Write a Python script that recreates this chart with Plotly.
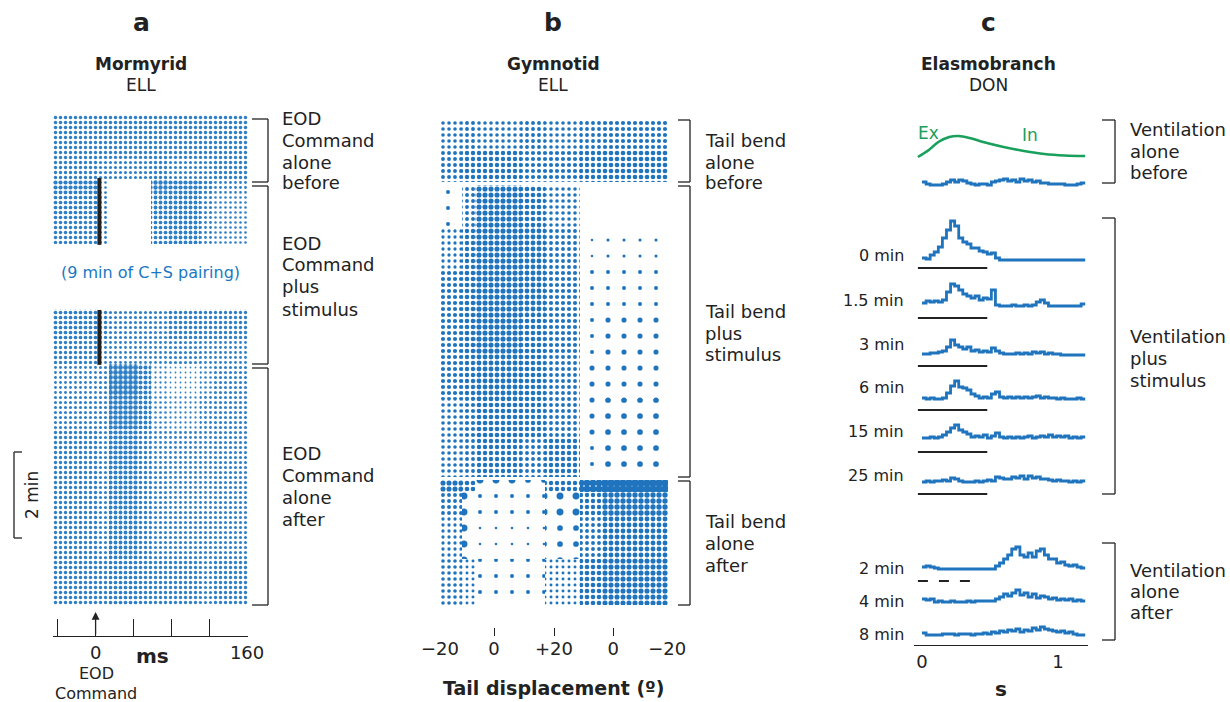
import numpy as np
import plotly.graph_objects as go

W, H = 1230, 702
def px(x): return x / W
def py(y): return 1 - y / H

BLUE = '#1f74bd'
DOT_A = '#2f7fc6'
DOT_B = '#1f74bd'
GREEN = '#19a05c'
FONT = 'DejaVu Sans, Liberation Sans, Arial, sans-serif'
INK = '#222222'

# ---------------- Panel a : Mormyrid ELL raster (spike density) ----------
A_COL_EDGES = [-45, 4, 14, 45, 58, 75, 110, 125, 161]          # ms
A_ROW_START = [0.0, 0.5, 1.0, 1.5, 1.8, 2.4, 4.5, 5.2, 5.8, 6.5, 7.3, 8.2, 9.2, 10.3]  # min
A_ROW_END   = [0.5, 1.0, 1.5, 1.8, 2.4, 3.0, 5.2, 5.8, 6.5, 7.3, 8.2, 9.2, 10.3, 11.4]
A_DENSITY = [
    [0.45, 0.45, 0.45, 0.45, 0.45, 0.45, 0.45, 0.45],
    [0.40, 0.40, 0.40, 0.40, 0.40, 0.40, 0.40, 0.40],
    [0.40, 0.38, 0.35, 0.38, 0.40, 0.35, 0.38, 0.40],
    [0.65, 0.25, 0.00, 0.00, 0.70, 0.65, 0.45, 0.30],
    [0.50, 0.30, 0.00, 0.00, 0.55, 0.55, 0.35, 0.25],
    [0.45, 0.30, 0.00, 0.00, 0.50, 0.55, 0.30, 0.25],
    [0.50, 0.40, 0.35, 0.35, 0.35, 0.45, 0.40, 0.40],
    [0.40, 0.30, 0.30, 0.30, 0.30, 0.35, 0.30, 0.30],
    [0.30, 0.35, 0.85, 0.60, 0.20, 0.12, 0.25, 0.35],
    [0.35, 0.35, 0.75, 0.55, 0.25, 0.20, 0.30, 0.35],
    [0.40, 0.35, 0.65, 0.40, 0.30, 0.30, 0.30, 0.35],
    [0.40, 0.35, 0.60, 0.40, 0.35, 0.30, 0.30, 0.35],
    [0.40, 0.35, 0.55, 0.40, 0.35, 0.35, 0.35, 0.35],
    [0.45, 0.40, 0.50, 0.45, 0.40, 0.40, 0.35, 0.40],
]
A_STIM_X = 4                       # ms, stimulus marker
A_STIM_SEGMENTS = [(1.465, 3.02), (4.535, 5.81)]
A_TICKS = [-40, 0, 40, 80, 120, 160]
A_TICKTEXT = ['', '0', '', '', '', '160']

# ---------------- Panel b : Gymnotid ELL raster ----------------
B_COL_EDGES = [-20, -12, -7, 10, 19, 32, 40, 64.5]
B_ROW_START = [0.0, 0.7, 1.51, 2.5, 3.5, 4.5, 5.5, 6.5, 7.4, 8.37, 8.65, 9.2, 10.2]
B_ROW_END   = [0.7, 1.44, 2.5, 3.5, 4.5, 5.5, 6.5, 7.4, 8.3, 8.65, 9.2, 10.2, 11.28]
B_DENSITY = [
    [0.30, 0.35, 0.30, 0.35, 0.30, 0.35, 0.40],
    [0.35, 0.45, 0.45, 0.40, 0.40, 0.45, 0.50],
    [0.05, 0.35, 0.60, 0.50, 0.30, 0.00, 0.00],
    [0.25, 0.45, 0.60, 0.55, 0.35, 0.02, 0.03],
    [0.40, 0.50, 0.60, 0.55, 0.40, 0.05, 0.05],
    [0.40, 0.50, 0.60, 0.50, 0.40, 0.05, 0.08],
    [0.40, 0.45, 0.55, 0.50, 0.35, 0.08, 0.08],
    [0.30, 0.40, 0.50, 0.45, 0.35, 0.08, 0.10],
    [0.30, 0.35, 0.45, 0.35, 0.45, 0.05, 0.10],
    [0.60, 0.50, 0.15, 0.10, 0.45, 0.90, 0.95],
    [0.35, 0.15, 0.05, 0.05, 0.15, 0.45, 0.65],
    [0.25, 0.15, 0.02, 0.02, 0.10, 0.35, 0.55],
    [0.30, 0.20, 0.05, 0.05, 0.20, 0.50, 0.60],
]
B_TICKS = [-20, 0, 22.2, 44.1, 64.1]
B_TICKTEXT = ['\u221220', '0', '+20', '0', '\u221220']

# ---------------- Panel c : Elasmobranch DON histograms ----------------
C_BIN = 0.03   # s
C_LABELS = ['0 min', '1.5 min', '3 min', '6 min', '15 min', '25 min', '2 min', '4 min', '8 min']
C_HISTS = [
    [1.5, 0.5, 0, 0, 0, 0.5, 1.5, 2.5, 1.5, 2.5, 2, 1, 0.5, 0, 0.5, 0.5, 0, 1.5, 2, 2.5,
     3, 2, 2.5, 1.5, 3, 2, 2.5, 1.5, 2, 1, 1, 0.5, 0.5, 0.5, 0.5, 0, 0, 0, 0.5, 1],
    [1, 0.5, 2.5, 4, 6.5, 11, 15, 19.5, 17, 11, 9, 8, 6, 6, 4.5, 4, 3, 3.5, 1, 0,
     0, 0, 0, 0, 0, 0, 0, 0, 0, 0, 0, 0, 0, 0, 0, 0, 0, 0, 0, 0],
    [1.5, 2.5, 2, 2.5, 2, 3, 7, 11, 10, 8, 6, 5, 4, 5, 3, 4, 3.5, 8, 0.5, 0,
     0, 0, 0.5, 0, 0, 0.5, 0, 0.5, 2, 3, 1.5, 0, 0, 0, 0, 0, 0, 0, 0, 1],
    [0.5, 0.5, 1, 1, 1.5, 2, 4, 7.5, 5, 4, 3, 4, 2, 2.5, 1.5, 2, 1.5, 3.5, 2, 1,
     0.5, 0.5, 0.5, 1, 0.5, 1, 0.5, 1.5, 1, 1.5, 0.5, 1, 0.5, 0.5, 0, 0, 0, 0, 0, 0],
    [1, 0.5, 1, 0.5, 0.5, 1, 3.5, 7, 9.5, 6.5, 6, 5, 3, 2, 1, 1.5, 1, 3, 4, 1.5,
     1, 1.5, 1, 1.5, 1, 1.5, 1, 1.5, 2, 1, 1.5, 1, 1, 0.5, 1, 0.5, 0.5, 0.5, 1, 0.5],
    [1, 1, 1.5, 1, 1.5, 2.5, 4, 6, 7.5, 5, 4, 3, 1.5, 2, 1.5, 2.5, 1, 2, 3.5, 1.5,
     1, 1.5, 1, 1.5, 1, 1.5, 2, 1, 1.5, 2, 1.5, 2.5, 1.5, 2, 1.5, 2, 1, 1.5, 1, 1.5],
    [0.5, 1, 0.5, 1, 1, 1.5, 1, 2.5, 2, 1, 0.5, 0.5, 0.5, 1, 0.5, 1, 1.5, 1, 3, 2.5,
     2, 2, 3, 2.5, 3.5, 2, 3.5, 2.5, 3, 2, 2, 1.5, 1, 1.5, 1, 1, 0.5, 1, 0.5, 1],
    [1, 1.5, 1, 0.5, 0, 0, 0, 0, 0, 0, 0, 0, 0, 0, 0, 0, 0, 0, 1.5, 3,
     5, 7, 10, 11, 7, 6, 8, 6, 9, 10, 7, 5, 5, 3, 3.5, 2, 1.5, 2, 1, 0.5],
    [2, 1.5, 2, 0.5, 1, 0.5, 0.5, 1, 0.5, 0.5, 0.5, 1, 0.5, 1, 1, 1, 1, 1, 2, 3,
     4.5, 3.5, 5, 6.5, 4, 5, 3, 4.5, 2.5, 3.5, 3, 2, 2.5, 1.5, 2, 1.5, 2, 1, 1.5, 1],
    [1.5, 0.5, 0.5, 0.5, 0.5, 1, 1, 1, 0.5, 1, 1, 1, 0.5, 1, 1, 1.5, 1, 2, 1.5, 2.5,
     2, 3, 2.5, 3.5, 2, 3, 2.5, 4, 3, 4.5, 3.5, 3, 2.5, 2, 2.5, 1.5, 2, 1, 0.5, 0.5],
]
C_OFFSETS = [230, 192.5, 169.5, 145, 122.5, 102.5, 81, 38, 21, 4.5]
C_LABEL_Y = [256, 300, 344, 387, 431, 475, 568, 601, 634]
C_STIM = [-0.03, 0.48]          # s
C_STIM_LEVELS = [188.5, 163.5, 139.5, 117.5, 96.5, 75.5]
C_STIM_AFTER = [-0.03, 0.40]
C_STIM_AFTER_LEVEL = 32
VENT_T = [-0.03, 0.05, 0.12, 0.2, 0.27, 0.35, 0.45, 0.6, 0.75, 0.9, 1.05, 1.2]
VENT_V = [0, 3.5, 7.5, 10, 10.5, 9.5, 7.5, 5, 3, 1.5, 0.75, 0.5]
VENT_OFFSET = 244

fig = go.Figure()


def raster(col_edges, rs, re, dens, xa, ya, size, scale, color, dmin=0.0, dmax=1.0):
    ys, xs, bases, widths, sol = [], [], [], [], []
    for r in range(len(rs)):
        for c in range(len(col_edges) - 1):
            d = dens[r][c]
            if d <= 0 or d < dmin or d >= dmax:
                continue
            ys.append((rs[r] + re[r]) / 2)
            widths.append(re[r] - rs[r])
            bases.append(col_edges[c])
            xs.append(col_edges[c + 1] - col_edges[c])
            sol.append(min(0.95, d * scale))
    return go.Bar(orientation='h', y=ys, x=xs, base=bases, width=widths,
                  xaxis=xa, yaxis=ya, showlegend=False, hoverinfo='skip',
                  marker=dict(color='white', line=dict(width=0),
                              pattern=dict(shape='.', fgcolor=color, bgcolor='white',
                                           size=size, solidity=sol, fillmode='replace')))


fig.add_trace(raster(A_COL_EDGES, A_ROW_START, A_ROW_END, A_DENSITY, 'x', 'y', 5, 0.85, DOT_A))
fig.add_trace(raster(B_COL_EDGES, B_ROW_START, B_ROW_END, B_DENSITY, 'x2', 'y2', 6, 0.95, DOT_B, dmin=0.2))
fig.add_trace(raster(B_COL_EDGES, B_ROW_START, B_ROW_END, B_DENSITY, 'x2', 'y2', 16, 1.0, DOT_B, dmax=0.2))

for (s0, s1) in A_STIM_SEGMENTS:
    fig.add_trace(go.Scatter(x=[A_STIM_X, A_STIM_X], y=[s0, s1], mode='lines',
                             line=dict(color=INK, width=4), xaxis='x', yaxis='y',
                             showlegend=False, hoverinfo='skip'))

# panel c histograms
edges = np.round(np.arange(41) * C_BIN, 4)
for vals, off in zip(C_HISTS, C_OFFSETS):
    yy = [off + v for v in vals] + [off + vals[-1]]
    fig.add_trace(go.Scatter(x=edges, y=yy, mode='lines', line=dict(color=BLUE, width=2.8, shape='hv'),
                             xaxis='x3', yaxis='y3', showlegend=False, hoverinfo='skip'))
for lv in C_STIM_LEVELS:
    fig.add_trace(go.Scatter(x=C_STIM, y=[lv, lv], mode='lines', line=dict(color=INK, width=2),
                             xaxis='x3', yaxis='y3', showlegend=False, hoverinfo='skip'))
fig.add_trace(go.Scatter(x=C_STIM_AFTER, y=[C_STIM_AFTER_LEVEL] * 2, mode='lines',
                         line=dict(color=INK, width=2, dash='10px,11px'),
                         xaxis='x3', yaxis='y3', showlegend=False, hoverinfo='skip'))
fig.add_trace(go.Scatter(x=VENT_T, y=[VENT_OFFSET + v for v in VENT_V], mode='lines',
                         line=dict(color=GREEN, width=2.6, shape='spline'),
                         xaxis='x3', yaxis='y3', showlegend=False, hoverinfo='skip'))

tickfont = dict(family=FONT, size=18, color=INK)
layout = dict(
    width=W, height=H, autosize=False,
    margin=dict(l=0, r=0, t=0, b=0, pad=0, autoexpand=False),
    paper_bgcolor='white', plot_bgcolor='white',
    barmode='overlay', bargap=0, showlegend=False,
    font=dict(family=FONT, color=INK),
    xaxis=dict(domain=[px(53), px(248)], range=[-45, 161], anchor='free', position=py(636),
               showline=True, linecolor=INK, linewidth=1.3, ticks='inside', ticklen=17,
               tickwidth=1.3, tickcolor=INK, tickvals=A_TICKS, ticktext=A_TICKTEXT,
               tickfont=tickfont, showgrid=False, zeroline=False, fixedrange=True, automargin=False),
    yaxis=dict(domain=[py(605), py(115)], range=[11.395, 0], visible=False, fixedrange=True),
    xaxis2=dict(domain=[px(440), px(668)], range=[-20, 64.4], anchor='free', position=py(636),
                showline=False, ticks='inside', ticklen=8, tickwidth=1.3, tickcolor=INK,
                tickvals=B_TICKS, ticktext=B_TICKTEXT, tickfont=tickfont,
                showgrid=False, zeroline=False, fixedrange=True, automargin=False),
    yaxis2=dict(domain=[py(605), py(120)], range=[11.28, 0], visible=False, fixedrange=True),
    xaxis3=dict(domain=[px(914), px(1088)], range=[-0.0588, 1.2206], anchor='y3',
                showline=True, linecolor=INK, linewidth=1.3, ticks='',
                tickvals=[0, 1], ticktext=['0', '1'], tickfont=tickfont,
                showgrid=False, zeroline=False, fixedrange=True, automargin=False),
    yaxis3=dict(domain=[py(645), py(120)], range=[0, 262.5], visible=False, fixedrange=True),
)
fig.update_layout(**layout)

# ---- shapes: brackets ----
shapes = []
def bracket(xv, xt, y0, y1):
    shapes.append(dict(type='line', xref='paper', yref='paper', x0=px(xv), x1=px(xv), y0=py(y0), y1=py(y1),
                       line=dict(color=INK, width=1.3)))
    for yy in (y0, y1):
        shapes.append(dict(type='line', xref='paper', yref='paper', x0=px(xt), x1=px(xv), y0=py(yy), y1=py(yy),
                           line=dict(color=INK, width=1.3)))

for (a, b) in [(119, 182), (186, 364), (368, 605)]:
    bracket(268, 252, a, b)
for (a, b) in [(120, 182), (186, 477), (481, 605)]:
    bracket(690, 678, a, b)
for (a, b) in [(120, 183), (218, 494), (543, 640)]:
    bracket(1115, 1102, a, b)
bracket(14, 22, 452, 538)   # 2 min scale bar
fig.update_layout(shapes=shapes)

# ---- annotations ----
ann = []
def text(x, y, s, size=18, bold=False, anchor='left', color=INK, angle=0):
    ann.append(dict(x=px(x), y=py(y), xref='paper', yref='paper', text=(f'<b>{s}</b>' if bold else s),
                    showarrow=False, xanchor=anchor, yanchor='middle', textangle=angle,
                    font=dict(family=FONT, size=size, color=color)))

for x, letter, t1, t2 in [(141, 'a', 'Mormyrid', 'ELL'), (553, 'b', 'Gymnotid', 'ELL'),
                          (988, 'c', 'Elasmobranch', 'DON')]:
    text(x, 22, letter, size=25, bold=True, anchor='center')
    text(x, 64, t1, size=17, bold=True, anchor='center')
    text(x, 85, t2, size=17, anchor='center')

def lines(x, ys, words):
    for yy, w in zip(ys, words):
        text(x, yy, w)

lines(280, [118, 140, 162, 183], ['EOD', 'Command', 'alone', 'before'])
lines(280, [243, 265, 287, 309], ['EOD', 'Command', 'plus', 'stimulus'])
lines(280, [453, 475, 497, 519], ['EOD', 'Command', 'alone', 'after'])
lines(703, [141, 162, 183], ['Tail bend', 'alone', 'before'])
lines(703, [311, 333, 354], ['Tail bend', 'plus', 'stimulus'])
lines(703, [521, 543, 565], ['Tail bend', 'alone', 'after'])
lines(1128, [130, 151, 173], ['Ventilation', 'alone', 'before'])
lines(1128, [336, 358, 380], ['Ventilation', 'plus', 'stimulus'])
lines(1128, [570, 591, 612], ['Ventilation', 'alone', 'after'])

text(150, 273, '(9 min of C+S pairing)', size=16, anchor='center', color='#1a78c2')
text(32, 495, '2 min', size=17, anchor='center', angle=-90)
text(152, 656, 'ms', size=20, bold=True, anchor='center')
text(96, 673, 'EOD', size=16, anchor='center')
text(96, 693, 'Command', size=16, anchor='center')
text(553, 688, 'Tail displacement (\u00ba)', size=19, bold=True, anchor='center')
text(1001, 689, 's', size=20, bold=True, anchor='center')
text(928, 133, 'Ex', size=17, anchor='center', color=GREEN)
text(1030, 135, 'In', size=17, anchor='center', color=GREEN)

for lbl, yy in zip(C_LABELS, C_LABEL_Y):
    text(906, yy, lbl, size=16, anchor='right')

# arrow at EOD command (0 ms)
ann.append(dict(x=0, y=py(612), xref='x', yref='paper', ax=0, ay=24, axref='pixel', ayref='pixel',
                text='', showarrow=True, arrowhead=2, arrowsize=1.2, arrowwidth=1.3, arrowcolor=INK))

fig.update_layout(annotations=ann)
fig.write_html('out.html', config={'responsive': False, 'displayModeBar': False},
               post_script="document.body.style.margin='0px';document.body.style.overflow='hidden';")
